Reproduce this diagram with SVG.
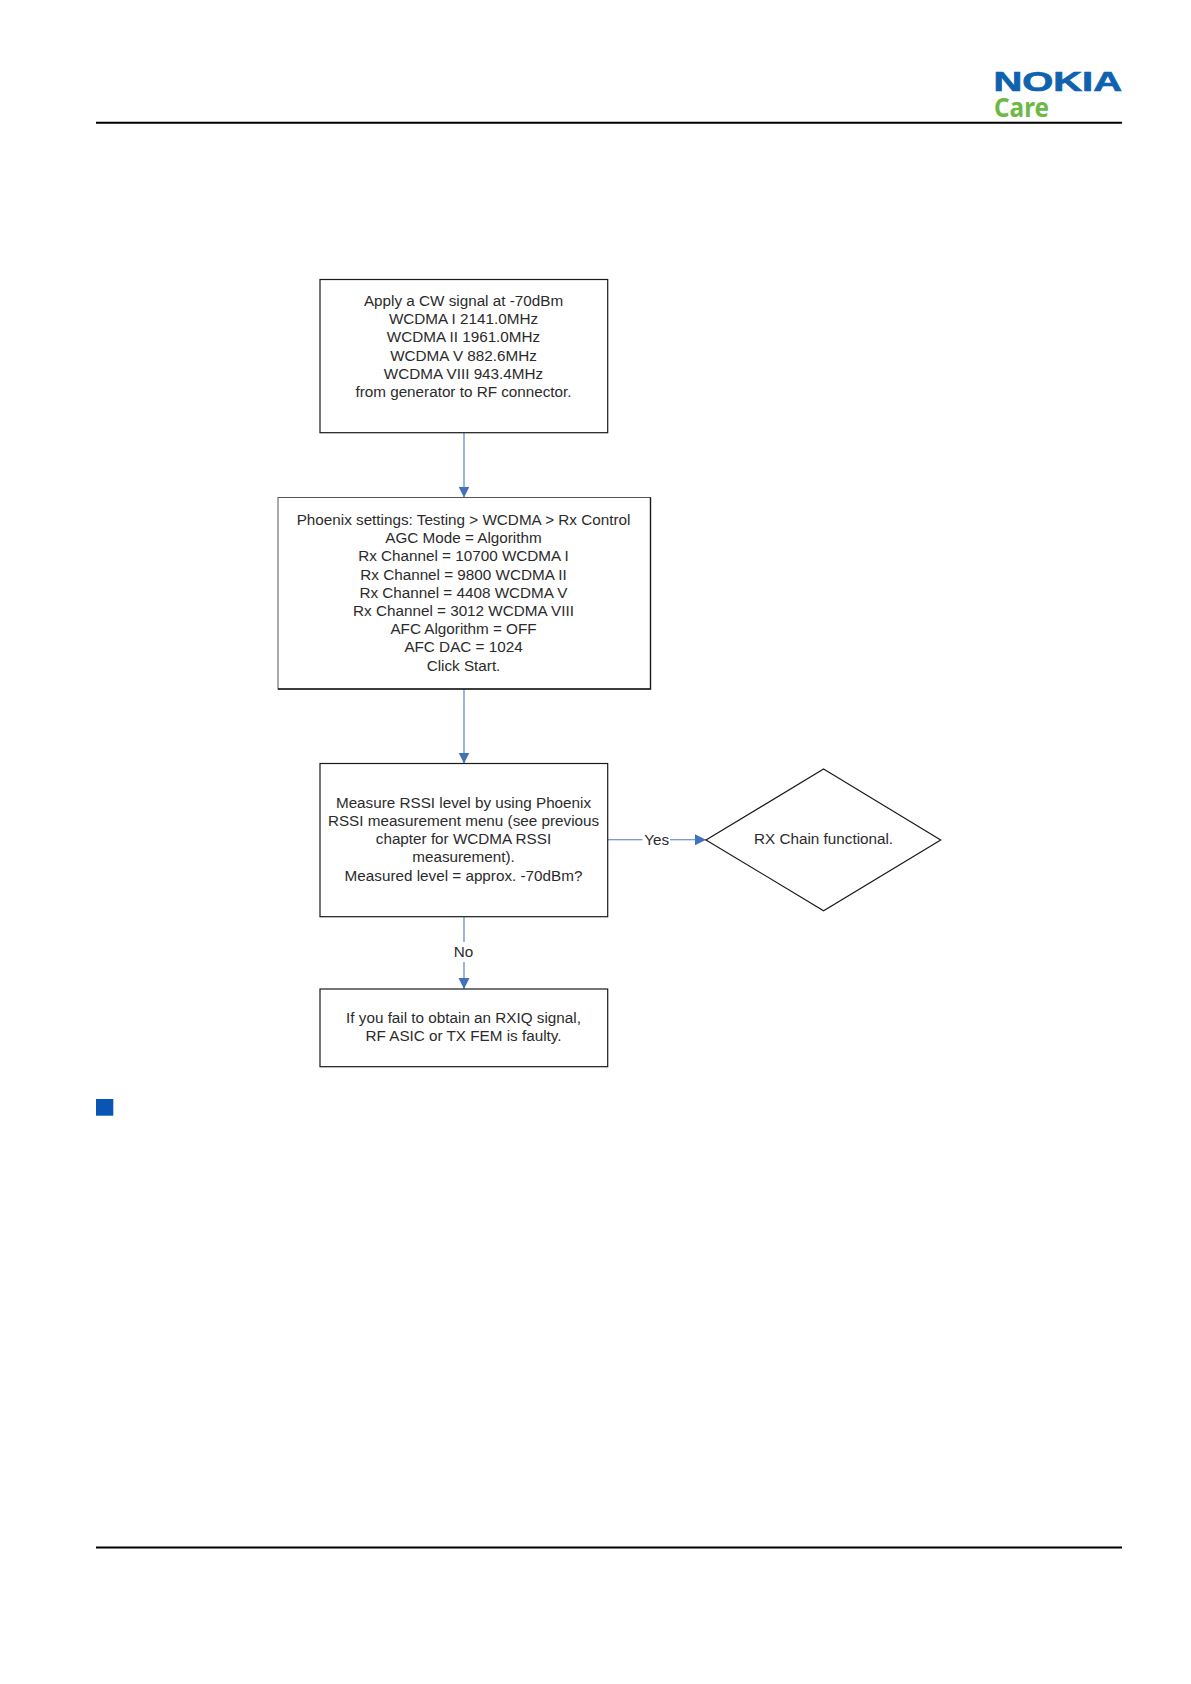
<svg xmlns="http://www.w3.org/2000/svg" width="1191" height="1684" viewBox="0 0 1191 1684">
<style>
.box{fill:#fff;stroke:#1a1a1a;stroke-width:1.2}
.t{font-family:"Liberation Sans",Arial,sans-serif;font-size:15.25px;fill:#2b2b2b;text-anchor:middle}
.c{fill:none;stroke:#4a7ebb;stroke-width:1.1}
.rule{stroke:#000;stroke-width:2}
</style>
<defs>
<marker id="arrow" markerUnits="userSpaceOnUse" markerWidth="12" markerHeight="12" refX="11" refY="5.5" orient="auto"><path d="M0 0L11 5.5L0 11Z" fill="#4272b8"/></marker>
</defs>
<rect width="1191" height="1684" fill="#fff"/>
<g id="header">
<text x="993.5" y="90.7" textLength="128.5" lengthAdjust="spacingAndGlyphs" style="font-family:'Liberation Sans',Arial,sans-serif;font-weight:700;font-size:28px;fill:#0f62ae;stroke:#0f62ae;stroke-width:0.7">NOKIA</text>
<text x="994" y="117" textLength="55" lengthAdjust="spacingAndGlyphs" style="font-family:'Noto Sans',sans-serif;font-weight:700;font-size:26px;fill:#6cb945">Care</text>
<line class="rule" x1="96" y1="122.7" x2="1122" y2="122.7"/>
</g>
<g id="connectors">
<line class="c" x1="464" y1="432.7" x2="464" y2="497.5" marker-end="url(#arrow)"/>
<line class="c" x1="464" y1="689.5" x2="464" y2="763.5" marker-end="url(#arrow)"/>
<line class="c" x1="607.7" y1="839.7" x2="706" y2="839.7" marker-end="url(#arrow)"/>
<line class="c" x1="464" y1="916.7" x2="464" y2="989" marker-end="url(#arrow)"/>
<rect x="642.5" y="830" width="27.5" height="20" fill="#fff"/>
<rect x="450" y="942" width="28" height="20" fill="#fff"/>
<text class="t" x="656.7" y="844.7">Yes</text>
<text class="t" x="463.5" y="956.8">No</text>
</g>
<g id="node-apply">
<rect class="box" x="320" y="279.5" width="287.7" height="153.2"/>
<text class="t" x="463.5" y="305.7">Apply a CW signal at -70dBm</text>
<text class="t" x="463.5" y="324">WCDMA I 2141.0MHz</text>
<text class="t" x="463.5" y="342.4">WCDMA II 1961.0MHz</text>
<text class="t" x="463.5" y="360.5">WCDMA V 882.6MHz</text>
<text class="t" x="463.5" y="378.5">WCDMA VIII 943.4MHz</text>
<text class="t" x="463.5" y="397">from generator to RF connector.</text>
</g>
<g id="node-phoenix">
<rect x="278" y="497.5" width="372.5" height="191.5" fill="#fff" stroke="#555" stroke-width="1"/>
<path d="M650.5 497.5V689H278" fill="none" stroke="#1a1a1a" stroke-width="1.4"/>
<text class="t" x="463.5" y="525">Phoenix settings: Testing &gt; WCDMA &gt; Rx Control</text>
<text class="t" x="463.5" y="543.2">AGC Mode = Algorithm</text>
<text class="t" x="463.5" y="561.3">Rx Channel = 10700 WCDMA I</text>
<text class="t" x="463.5" y="579.5">Rx Channel = 9800 WCDMA II</text>
<text class="t" x="463.5" y="597.6">Rx Channel = 4408 WCDMA V</text>
<text class="t" x="463.5" y="615.8">Rx Channel = 3012 WCDMA VIII</text>
<text class="t" x="463.5" y="634">AFC Algorithm = OFF</text>
<text class="t" x="463.5" y="652.2">AFC DAC = 1024</text>
<text class="t" x="463.5" y="670.5">Click Start.</text>
</g>
<g id="node-measure">
<rect class="box" x="320" y="763.5" width="287.7" height="153.2"/>
<text class="t" x="463.5" y="807.8">Measure RSSI level by using Phoenix</text>
<text class="t" x="463.5" y="825.9">RSSI measurement menu (see previous</text>
<text class="t" x="463.5" y="844">chapter for WCDMA RSSI</text>
<text class="t" x="463.5" y="862.4">measurement).</text>
<text class="t" x="463.5" y="880.6">Measured level = approx. -70dBm?</text>
</g>
<g id="node-functional">
<polygon class="box" points="823.6,769 940.7,840 823.6,910.7 706,840"/>
<text class="t" x="823.6" y="844.2">RX Chain functional.</text>
</g>
<g id="node-fail">
<rect class="box" x="320" y="989" width="287.7" height="77.7"/>
<text class="t" x="463.5" y="1023.3">If you fail to obtain an RXIQ signal,</text>
<text class="t" x="463.5" y="1041.2">RF ASIC or TX FEM is faulty.</text>
</g>
<rect id="bullet" x="96" y="1099" width="17.3" height="16.7" fill="#0a54b4"/>
<line id="footer-rule" class="rule" x1="96" y1="1547.6" x2="1122" y2="1547.6"/>
</svg>
